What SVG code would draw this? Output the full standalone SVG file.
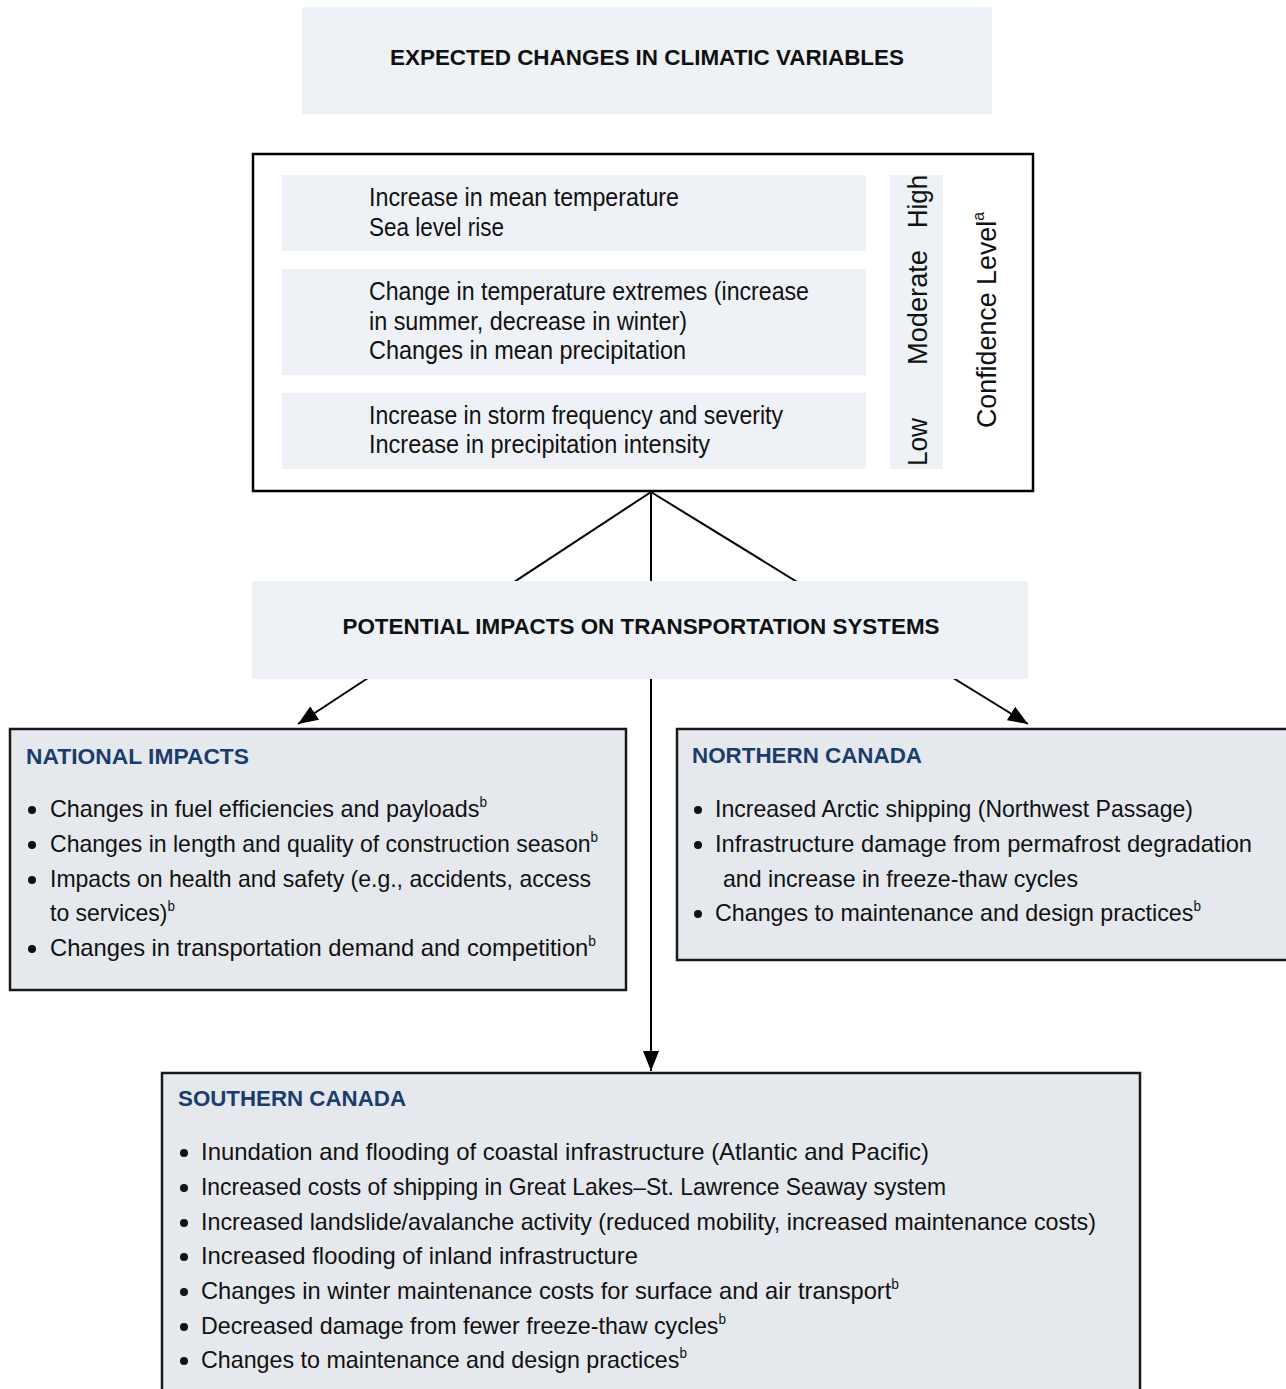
<svg xmlns="http://www.w3.org/2000/svg" width="1286" height="1389" viewBox="0 0 1286 1389">
<style>
text{font-family:"Liberation Sans Narrow","Liberation Sans",Arial,sans-serif;fill:#111}
.hd{font-weight:bold;font-size:22px;text-anchor:middle}
.cl{font-size:25px}
.lv{font-size:27px}
.bt{font-size:24px}
.sup{font-size:14px}
.ttl{font-weight:bold;font-size:22px;fill:#1b3d6d}
.lite{fill:#eef2f6}
.panel{fill:#e5e9ee;stroke:#1a1a1a;stroke-width:2.5}
.con{stroke:#000;stroke-width:2;fill:none}
.dot{fill:#111}
</style>
<defs>
<marker id="ah2" viewBox="0 0 20 16" refX="20" refY="8" markerWidth="20" markerHeight="16" markerUnits="userSpaceOnUse" orient="auto">
<path d="M0,0 L20,8 L0,16 z" fill="#000"/>
</marker>
</defs>

<g id="connectors">
<line class="con" x1="651" y1="492" x2="298" y2="724" marker-end="url(#ah2)"/>
<line class="con" x1="651" y1="492" x2="1028" y2="724" marker-end="url(#ah2)"/>
<line class="con" x1="651" y1="492" x2="651" y2="1071" marker-end="url(#ah2)"/>
</g>

<g id="title">
<rect class="lite" x="302" y="7" width="690" height="107"/>
<text class="hd" x="647" y="65" textLength="514" lengthAdjust="spacingAndGlyphs">EXPECTED CHANGES IN CLIMATIC VARIABLES</text>
</g>

<g id="climate">
<rect x="253" y="154" width="780" height="337" fill="#fff" stroke="#000" stroke-width="2.5"/>
<rect class="lite" x="282" y="175" width="584" height="76"/>
<rect class="lite" x="282" y="269" width="584" height="106"/>
<rect class="lite" x="282" y="393" width="584" height="76"/>
<text class="cl" x="369" y="206" textLength="310" lengthAdjust="spacingAndGlyphs">Increase in mean temperature</text>
<text class="cl" x="369" y="236" textLength="135" lengthAdjust="spacingAndGlyphs">Sea level rise</text>
<text class="cl" x="369" y="300" textLength="440" lengthAdjust="spacingAndGlyphs">Change in temperature extremes (increase</text>
<text class="cl" x="369" y="330" textLength="318" lengthAdjust="spacingAndGlyphs">in summer, decrease in winter)</text>
<text class="cl" x="369" y="359" textLength="317" lengthAdjust="spacingAndGlyphs">Changes in mean precipitation</text>
<text class="cl" x="369" y="424" textLength="414" lengthAdjust="spacingAndGlyphs">Increase in storm frequency and severity</text>
<text class="cl" x="369" y="453" textLength="341" lengthAdjust="spacingAndGlyphs">Increase in precipitation intensity</text>
<rect class="lite" x="890" y="175" width="53" height="294"/>
<text class="lv" transform="translate(927,466) rotate(-90)" textLength="48" lengthAdjust="spacingAndGlyphs">Low</text>
<text class="lv" transform="translate(927,365) rotate(-90)" textLength="115" lengthAdjust="spacingAndGlyphs">Moderate</text>
<text class="lv" transform="translate(927,228) rotate(-90)" textLength="53" lengthAdjust="spacingAndGlyphs">High</text>
<text class="lv" transform="translate(996,428) rotate(-90)" textLength="216" lengthAdjust="spacingAndGlyphs">Confidence Level<tspan font-size="16" dy="-12">a</tspan></text>
</g>

<g id="potential">
<rect class="lite" x="252" y="581" width="776" height="98"/>
<text class="hd" x="641" y="634" textLength="597" lengthAdjust="spacingAndGlyphs">POTENTIAL IMPACTS ON TRANSPORTATION SYSTEMS</text>
</g>

<g id="national">
<rect class="panel" x="10" y="729" width="616" height="261"/>
<text class="ttl" x="26" y="764" textLength="223" lengthAdjust="spacingAndGlyphs">NATIONAL IMPACTS</text>
<circle class="dot" cx="32" cy="810" r="4"/>
<text class="bt" x="50" y="817" textLength="437" lengthAdjust="spacingAndGlyphs">Changes in fuel efficiencies and payloads<tspan class="sup" dy="-10">b</tspan></text>
<circle class="dot" cx="32" cy="845" r="4"/>
<text class="bt" x="50" y="852" textLength="548" lengthAdjust="spacingAndGlyphs">Changes in length and quality of construction season<tspan class="sup" dy="-10">b</tspan></text>
<circle class="dot" cx="32" cy="880" r="4"/>
<text class="bt" x="50" y="887" textLength="541" lengthAdjust="spacingAndGlyphs">Impacts on health and safety (e.g., accidents, access</text>
<text class="bt" x="50" y="921" textLength="125" lengthAdjust="spacingAndGlyphs">to services)<tspan class="sup" dy="-10">b</tspan></text>
<circle class="dot" cx="32" cy="949" r="4"/>
<text class="bt" x="50" y="956" textLength="546" lengthAdjust="spacingAndGlyphs">Changes in transportation demand and competition<tspan class="sup" dy="-10">b</tspan></text>
</g>

<g id="northern">
<rect class="panel" x="677" y="729" width="620" height="231"/>
<text class="ttl" x="692" y="763" textLength="230" lengthAdjust="spacingAndGlyphs">NORTHERN CANADA</text>
<circle class="dot" cx="698" cy="810" r="4"/>
<text class="bt" x="715" y="817" textLength="478" lengthAdjust="spacingAndGlyphs">Increased Arctic shipping (Northwest Passage)</text>
<circle class="dot" cx="698" cy="845" r="4"/>
<text class="bt" x="715" y="852" textLength="537" lengthAdjust="spacingAndGlyphs">Infrastructure damage from permafrost degradation</text>
<text class="bt" x="723" y="887" textLength="355" lengthAdjust="spacingAndGlyphs">and increase in freeze-thaw cycles</text>
<circle class="dot" cx="698" cy="914" r="4"/>
<text class="bt" x="715" y="921" textLength="486" lengthAdjust="spacingAndGlyphs">Changes to maintenance and design practices<tspan class="sup" dy="-10">b</tspan></text>
</g>

<g id="southern">
<rect class="panel" x="162" y="1073" width="978" height="330"/>
<text class="ttl" x="178" y="1106" textLength="228" lengthAdjust="spacingAndGlyphs">SOUTHERN CANADA</text>
<circle class="dot" cx="184" cy="1153" r="4"/>
<text class="bt" x="201" y="1160" textLength="728" lengthAdjust="spacingAndGlyphs">Inundation and flooding of coastal infrastructure (Atlantic and Pacific)</text>
<circle class="dot" cx="184" cy="1188" r="4"/>
<text class="bt" x="201" y="1195" textLength="745" lengthAdjust="spacingAndGlyphs">Increased costs of shipping in Great Lakes–St. Lawrence Seaway system</text>
<circle class="dot" cx="184" cy="1223" r="4"/>
<text class="bt" x="201" y="1230" textLength="895" lengthAdjust="spacingAndGlyphs">Increased landslide/avalanche activity (reduced mobility, increased maintenance costs)</text>
<circle class="dot" cx="184" cy="1257" r="4"/>
<text class="bt" x="201" y="1264" textLength="437" lengthAdjust="spacingAndGlyphs">Increased flooding of inland infrastructure</text>
<circle class="dot" cx="184" cy="1292" r="4"/>
<text class="bt" x="201" y="1299" textLength="698" lengthAdjust="spacingAndGlyphs">Changes in winter maintenance costs for surface and air transport<tspan class="sup" dy="-10">b</tspan></text>
<circle class="dot" cx="184" cy="1327" r="4"/>
<text class="bt" x="201" y="1334" textLength="525" lengthAdjust="spacingAndGlyphs">Decreased damage from fewer freeze-thaw cycles<tspan class="sup" dy="-10">b</tspan></text>
<circle class="dot" cx="184" cy="1361" r="4"/>
<text class="bt" x="201" y="1368" textLength="486" lengthAdjust="spacingAndGlyphs">Changes to maintenance and design practices<tspan class="sup" dy="-10">b</tspan></text>
</g>
</svg>
